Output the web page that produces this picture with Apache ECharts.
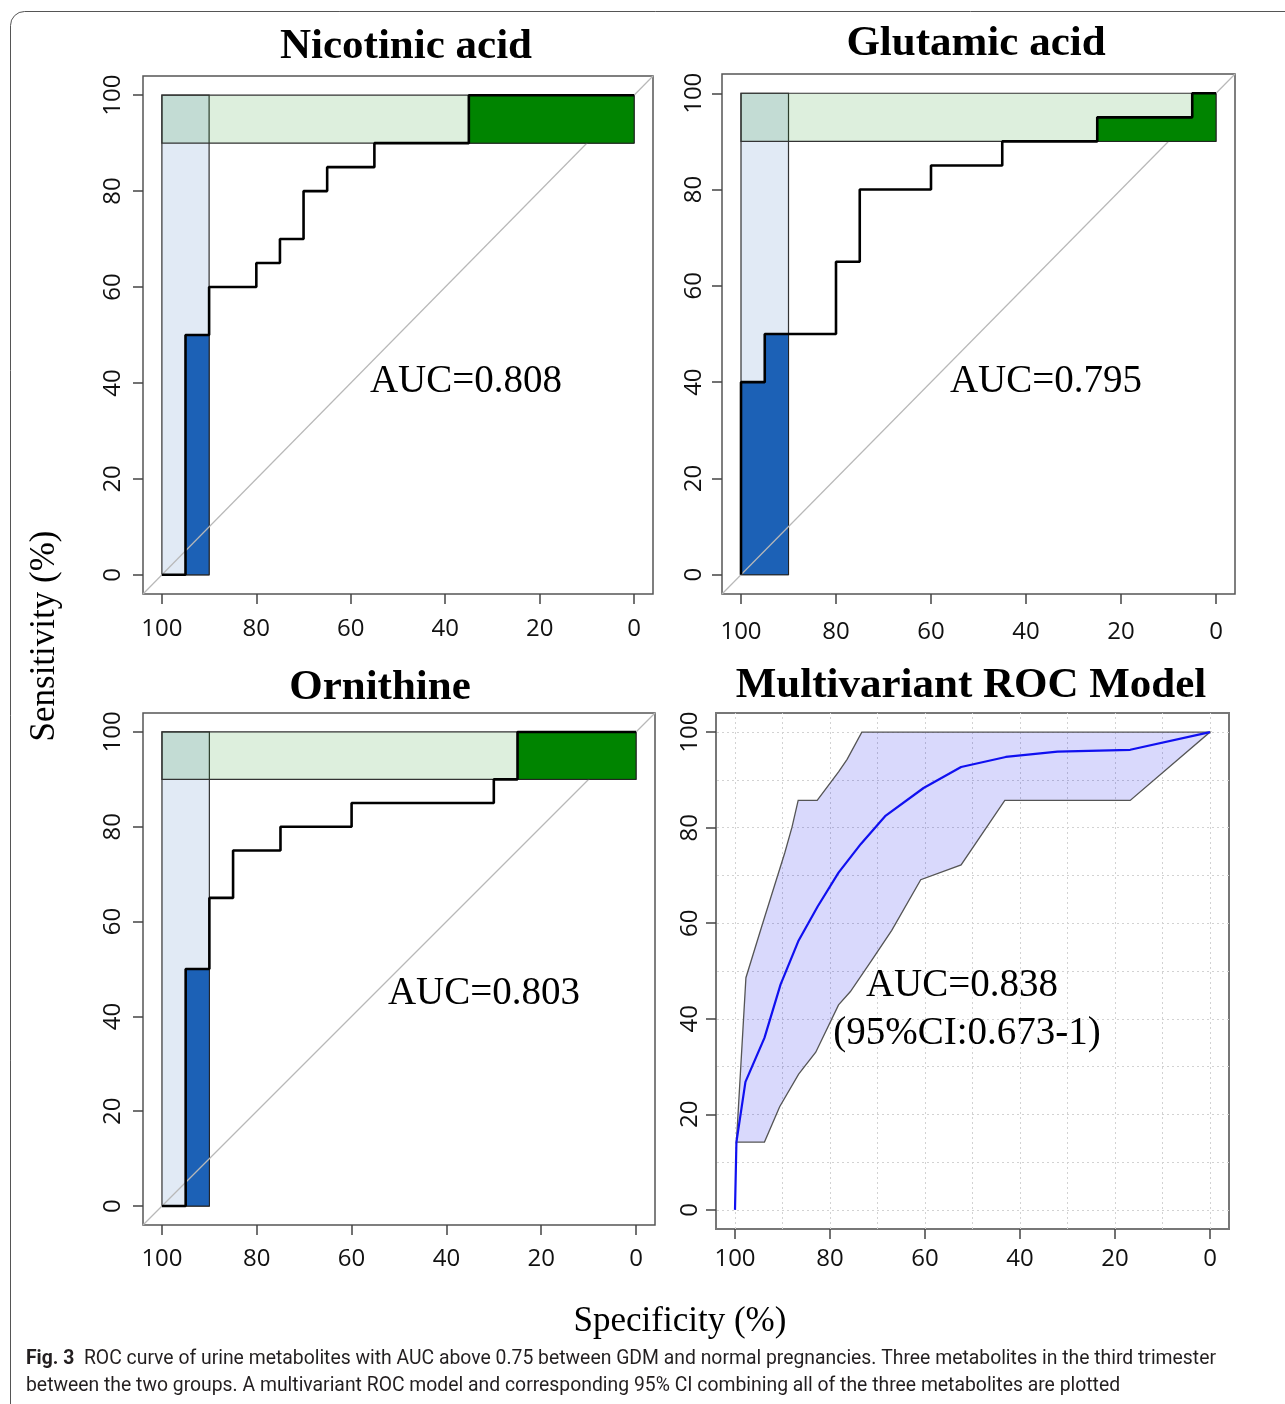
<!DOCTYPE html>
<html>
<head>
<meta charset="utf-8">
<script src="https://cdn.jsdelivr.net/npm/echarts@6/dist/echarts.min.js"></script>
<style>
  html, body { margin: 0; padding: 0; background: #fff; }
  #main { width: 1285px; height: 1404px; }
</style>
</head>
<body>
<div id="main"></div>
<script>
// every point is [specificity %, sensitivity %]
var nicotinicRoc = [[100,0],[95,0],[95,50],[90,50],[90,60],[80,60],[80,65],[75,65],[75,70],[70,70],[70,80],[65,80],[65,85],[55,85],[55,90],[35,90],[35,100],[0,100]];
var glutamicRoc = [[100,0],[100,40],[95,40],[95,50],[80,50],[80,65],[75,65],[75,80],[60,80],[60,85],[45,85],[45,90],[25,90],[25,95],[5,95],[5,100],[0,100]];
var ornithineRoc = [[100,0],[95,0],[95,50],[90,50],[90,65],[85,65],[85,75],[75,75],[75,80],[60,80],[60,85],[30,85],[30,90],[25,90],[25,100],[0,100]];

// partial AUC regions (specificity 100-90, sensitivity 90-100)
var spBand = [[100,0],[100,100],[90,100],[90,0]];
var seBand = [[100,90],[100,100],[0,100],[0,90]];
var nicotinicSpArea = [[95,0],[95,50],[90,50],[90,0]];
var nicotinicSeArea = [[35,90],[35,100],[0,100],[0,90]];
var glutamicSpArea = [[100,0],[100,40],[95,40],[95,50],[90,50],[90,0]];
var glutamicSeArea = [[25,90],[25,95],[5,95],[5,100],[0,100],[0,90]];
var ornithineSpArea = [[95,0],[95,50],[90,50],[90,0]];
var ornithineSeArea = [[25,90],[25,100],[0,100],[0,90]];

var diagonal = [[104,-4],[-4,104]];

// multivariant model and its 95% CI
var modelRoc = [[100,0],[99.7,14.2],[97.8,26.8],[93.8,36],[90.4,47.2],[86.6,56.4],[82.6,63.5],[78.2,70.6],[73.5,76.6],[68.4,82.4],[60.3,88.3],[52.4,92.7],[43,94.8],[32.1,95.9],[16.8,96.3],[0,100]];
var modelCiUpper = [[99.7,14.2],[97.7,48.6],[94.2,59.9],[89.5,74.8],[88,80.1],[86.7,85.7],[82.7,85.7],[78.2,91.7],[76.4,94.3],[73.3,100],[0,100]];
var modelCiLower = [[99.7,14.2],[93.8,14.2],[90.6,21.6],[86.6,28.4],[83,33],[78.2,42.9],[75.7,45.7],[71.3,52.1],[67,58.5],[60.9,69.1],[52.4,72.2],[43.2,85.7],[16.8,85.7],[0,100]];

var tickValues = [0, 20, 40, 60, 80, 100];
var gridValues = [0, 10, 20, 30, 40, 50, 60, 70, 80, 90, 100];

var panelTitles = ['Nicotinic acid', 'Glutamic acid', 'Ornithine', 'Multivariant ROC Model'];
var aucLabels = ['AUC=0.808', 'AUC=0.795', 'AUC=0.803', 'AUC=0.838', '(95%CI:0.673-1)'];

var chart = echarts.init(document.getElementById('main'));

var SERIF = "'Liberation Serif', 'Times New Roman', serif";
var SANS = "'Open Sans', 'DejaVu Sans', sans-serif";

var grids = [
  { left: 143, top: 76, width: 510, height: 518, show: true, borderColor: '#555', borderWidth: 1.5 },
  { left: 722, top: 74, width: 513, height: 520, show: true, borderColor: '#555', borderWidth: 1.5 },
  { left: 143, top: 713, width: 512, height: 512, show: true, borderColor: '#555', borderWidth: 1.5 },
  { left: 716, top: 713, width: 513, height: 516, show: true, borderColor: '#777', borderWidth: 2 }
];

function makeAxis(gridIndex, isY, margin) {
  return {
    type: 'value',
    gridIndex: gridIndex,
    min: -4,
    max: 104,
    inverse: !isY,
    axisLine: { show: false, onZero: false },
    axisTick: { show: true, length: 10, customValues: tickValues, lineStyle: { color: '#444', width: 1.5 } },
    axisLabel: { customValues: tickValues, rotate: isY ? 90 : 0, margin: margin, color: '#111', fontSize: 24, fontFamily: SANS },
    splitLine: { show: false }
  };
}

var xAxes = [makeAxis(0, false, 23), makeAxis(1, false, 26), makeAxis(2, false, 22), makeAxis(3, false, 18)];
var yAxes = [makeAxis(0, true, 18), makeAxis(1, true, 16), makeAxis(2, true, 18), makeAxis(3, true, 14)];

function polygon(idx, points, fill, stroke, lineWidth, z) {
  return {
    type: 'custom',
    xAxisIndex: idx,
    yAxisIndex: idx,
    z: z,
    silent: true,
    data: points,
    renderItem: function (params, api) {
      if (params.dataIndex !== 0) return null;
      var pts = points.map(function (p) { return api.coord(p); });
      return {
        type: 'polygon',
        shape: { points: pts },
        style: { fill: fill, stroke: stroke, lineWidth: lineWidth }
      };
    }
  };
}

function line(idx, data, color, width, z) {
  return {
    type: 'line',
    xAxisIndex: idx,
    yAxisIndex: idx,
    data: data,
    symbol: 'none',
    silent: true,
    z: z,
    lineStyle: { color: color, width: width }
  };
}

var rocPanels = [
  { roc: nicotinicRoc, sp: nicotinicSpArea, se: nicotinicSeArea },
  { roc: glutamicRoc, sp: glutamicSpArea, se: glutamicSeArea },
  { roc: ornithineRoc, sp: ornithineSpArea, se: ornithineSeArea }
];

var series = [];
rocPanels.forEach(function (p, i) {
  series.push(polygon(i, spBand, 'rgba(28,97,182,0.133)', '#333', 1.2, 2));
  series.push(polygon(i, seBand, 'rgba(0,134,0,0.133)', '#333', 1.2, 3));
  series.push(polygon(i, p.sp, '#1c61b6', '#222', 1, 4));
  series.push(line(i, diagonal, '#b8b8b8', 1.2, 5));
  series.push(polygon(i, p.se, '#008400', '#222', 1, 6));
  series.push(line(i, p.roc, '#000', 2.6, 7));
});

// multivariant panel: CI band, dotted grid, model curve
var ciPolygon = modelCiUpper.concat(modelCiLower.slice().reverse());
series.push(polygon(3, ciPolygon, 'rgba(0,0,235,0.15)', '#555', 1.3, 3));
series.push({
  type: 'line',
  xAxisIndex: 3,
  yAxisIndex: 3,
  data: [],
  silent: true,
  z: 1,
  markLine: {
    silent: true,
    z: 1,
    symbol: ['none', 'none'],
    label: { show: false },
    lineStyle: { color: '#d2d2d2', type: [2, 3], width: 1 },
    data: gridValues.map(function (v) { return { xAxis: v }; })
      .concat(gridValues.map(function (v) { return { yAxis: v }; }))
  }
});
series.push(line(3, modelRoc, '#1010f0', 2.2, 6));

function text(str, x, y, size, opts) {
  opts = opts || {};
  return {
    type: 'text',
    x: x,
    y: y,
    rotation: opts.rotation || 0,
    z: 100,
    style: {
      text: str,
      fontSize: size,
      fontFamily: opts.family || SERIF,
      fontWeight: opts.weight || 'normal',
      fill: opts.color || '#000',
      textAlign: 'center',
      textVerticalAlign: 'middle'
    }
  };
}

// caption is a condensed sans; squeeze a regular one to the same width
var captionLine1 = 'ROC curve of urine metabolites with AUC above 0.75 between GDM and normal pregnancies. Three metabolites in the third trimester';
var captionLine2 = 'between the two groups. A multivariant ROC model and corresponding 95% CI combining all of the three metabolites are plotted';
var capFont = "Roboto, 'DejaVu Sans', sans-serif";
var ctx = document.createElement('canvas').getContext('2d');
ctx.font = 'bold 20px ' + capFont;
var wBold = ctx.measureText('Fig. 3').width;
ctx.font = '20px ' + capFont;
var wRest = ctx.measureText('  ' + captionLine1).width;
var capScale = 1190 / (wBold + wRest);

var graphics = [
  {
    type: 'rect',
    shape: { x: 10.5, y: 11.5, width: 1300, height: 1410, r: 14 },
    style: { fill: 'none', stroke: '#555', lineWidth: 1 }
  },
  text(panelTitles[0], 406, 47, 43, { weight: 'bold' }),
  text(panelTitles[1], 976, 44, 43, { weight: 'bold' }),
  text(panelTitles[2], 380, 688, 43, { weight: 'bold' }),
  text(panelTitles[3], 971, 686, 43, { weight: 'bold' }),
  text(aucLabels[0], 466, 382, 39),
  text(aucLabels[1], 1046, 382, 39),
  text(aucLabels[2], 484, 994, 39),
  text(aucLabels[3], 962, 986, 39),
  text(aucLabels[4], 967, 1034, 39),
  text('Sensitivity (%)', 45, 636, 35, { rotation: Math.PI / 2 }),
  text('Specificity (%)', 680, 1322, 35),
  {
    type: 'text',
    x: 26,
    y: 1359,
    scaleX: capScale,
    style: {
      text: '{b|Fig. 3}  ' + captionLine1,
      fontSize: 20,
      fontFamily: capFont,
      fill: '#231f20',
      textVerticalAlign: 'middle',
      rich: { b: { fontSize: 20, fontFamily: capFont, fontWeight: 'bold', fill: '#231f20' } }
    }
  },
  {
    type: 'text',
    x: 26,
    y: 1386,
    scaleX: capScale,
    style: {
      text: captionLine2,
      fontSize: 20,
      fontFamily: capFont,
      fill: '#231f20',
      textVerticalAlign: 'middle'
    }
  }
];

chart.setOption({
  animation: false,
  backgroundColor: '#fff',
  grid: grids,
  xAxis: xAxes,
  yAxis: yAxes,
  series: series,
  graphic: graphics
});
</script>
</body>
</html>
